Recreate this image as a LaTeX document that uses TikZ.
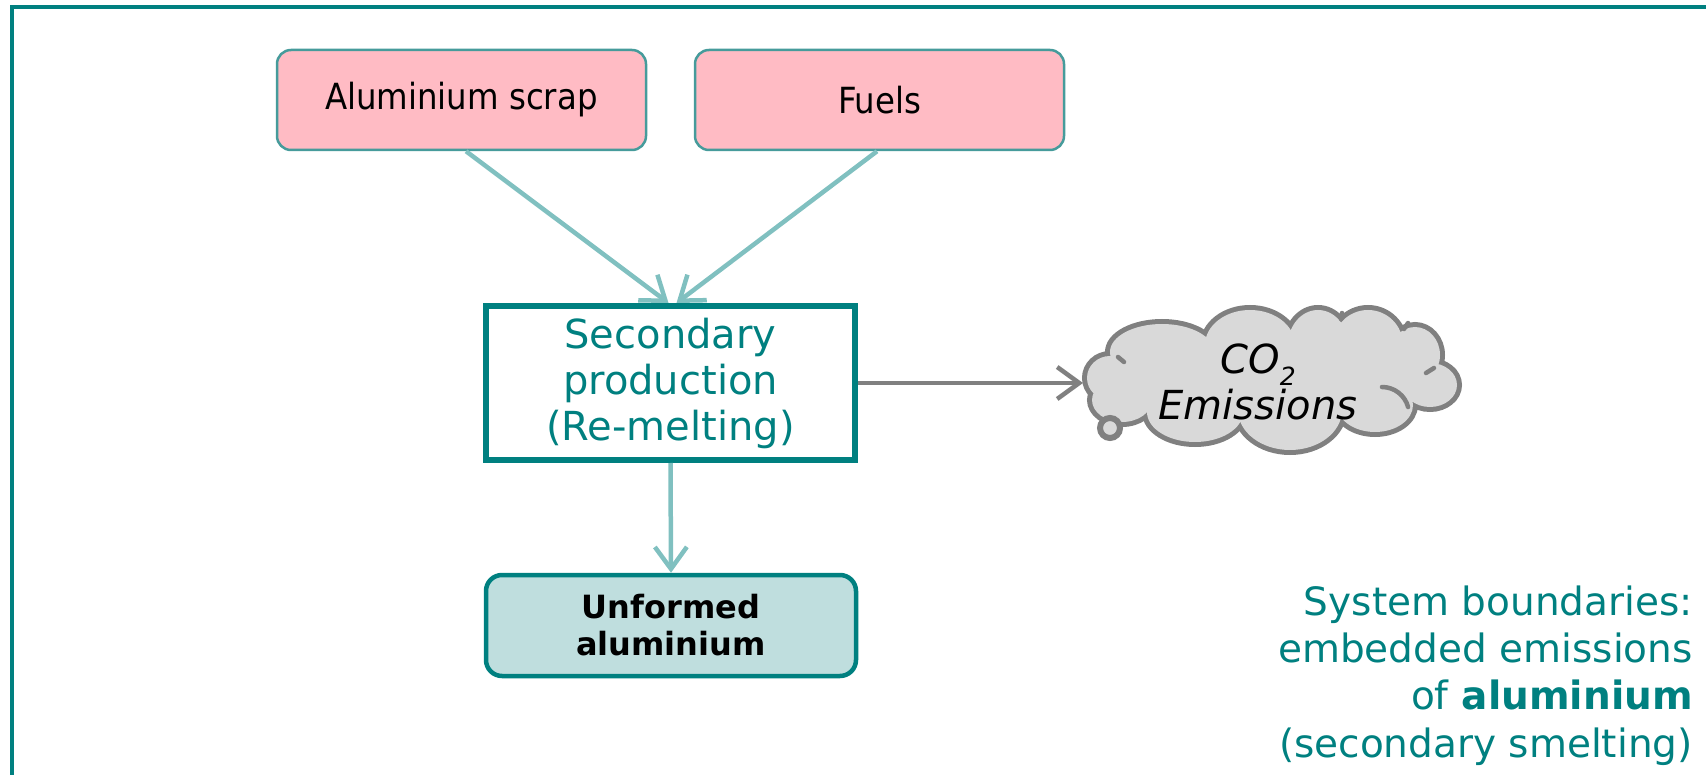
\documentclass[tikz,border=0pt]{standalone}
\usepackage{fontspec}
\setmainfont{DejaVu Sans}
\newfontfamily\condfont{DejaVu Sans Condensed}
\usetikzlibrary{arrows.meta}
\definecolor{tealdark}{RGB}{0,128,128}
\definecolor{tealmid}{RGB}{70,155,155}
\definecolor{teallight}{RGB}{128,192,192}
\definecolor{pinkfill}{RGB}{255,187,196}
\definecolor{outfill}{RGB}{191,222,222}
\definecolor{cloudfill}{RGB}{217,217,217}
\definecolor{cloudline}{RGB}{128,128,128}
\tikzset{
  inbox/.style={draw=tealmid, line width=2.5, fill=pinkfill, rounded corners=14,
    minimum width=369, minimum height=100, inner sep=0,
    font=\condfont\fontsize{36}{40}\selectfont},
  procbox/.style={draw=tealdark, line width=6, fill=white,
    minimum width=369, minimum height=154, inner sep=0, align=center,
    text=tealdark, font=\fontsize{40}{46}\selectfont},
  outbox/.style={draw=tealdark, line width=4.5, fill=outfill, rounded corners=16,
    minimum width=370, minimum height=101, inner sep=0, align=center,
    font=\bfseries\fontsize{32}{37}\selectfont},
  flow/.style={draw=teallight, line width=4.5, -{Straight Barb[length=22,width=32]}},
  emit/.style={draw=cloudline, line width=4.5, -{Straight Barb[length=22,width=32]}},
  cloudrim/.style={draw=cloudline, line width=10},
  cloudbody/.style={fill=cloudfill},
  cloudtick/.style={draw=cloudline, line width=4.5, line cap=round},
}
% the puffs of the cloud: their union is the cloud
\def\cloudpuffs{
  (1110,378) ellipse[x radius=23, y radius=22]
  (1162,352) ellipse[x radius=52, y radius=28]
  (1250,345) ellipse[x radius=45, y radius=35]
  (1318,345) ellipse[x radius=30, y radius=35]
  (1368,345) ellipse[x radius=35, y radius=35]
  (1415,355) ellipse[x radius=25, y radius=28]
  (1430,385) ellipse[x radius=27, y radius=22]
  (1375,405) ellipse[x radius=38, y radius=27]
  (1290,410) ellipse[x radius=52, y radius=40]
  (1195,412) ellipse[x radius=48, y radius=30]
  (1122,400) ellipse[x radius=30, y radius=22]}
\def\cloudcore{
  (1110,378) -- (1162,352) -- (1250,345) -- (1318,345) -- (1368,345) -- (1415,355)
  -- (1430,385) -- (1375,405) -- (1290,410) -- (1195,412) -- (1122,400) -- cycle}
\begin{document}
\begin{tikzpicture}[x=1pt,y=-1pt]
\useasboundingbox (0,0) rectangle (1706,775);
% frame of the slide area
\coordinate (fr1) at (1706,7.5);
\coordinate (fr2) at (12,7.5);
\coordinate (fr3) at (12,775);
\draw[tealdark, line width=4] (fr1) -- (fr2) -- (fr3);

% inputs
\node[inbox] (scrap) at (461.5,100) {Aluminium scrap};
\node[inbox] (fuels) at (879.5,100) {Fuels};

% process
\node[procbox] (proc) at (670.5,383) {Secondary\\production\\(Re-melting)};

% product
\node[outbox] (prod) at (671,625.5) {Unformed\\aluminium};

% emissions cloud: wide rims first, then the body covers their inner halves
\path[cloudrim] \cloudpuffs;
\path[cloudbody] \cloudpuffs;
\path[cloudbody] \cloudcore;
\coordinate (cloudtip) at (1083,382);
% short inner strokes where the puffs meet
\draw[cloudtick] (1382,387) arc[start angle=-90, end angle=-15, radius=27];
\draw[cloudtick] (1434,368) -- (1426,373);
\draw[cloudtick] (1118,357) -- (1124,362);
\draw[cloudtick] (1342,313) -- (1341,319);
\draw[cloudtick] (1408,323) -- (1404,329);
\draw[cloudline, line width=6, fill=cloudfill] (1110,428) circle[radius=10];
\node[font=\itshape\fontsize{40}{46}\selectfont, align=center, inner sep=0] (co2) at (1258,382)
  {CO\raisebox{-12pt}{\fontsize{25}{25}\selectfont 2}\\Emissions};

% connectors
\draw[flow] ([xshift=4.5]scrap.south) -- ([xshift=-2]proc.north);
\draw[flow] ([xshift=-2.5]fuels.south) -- ([xshift=6]proc.north);
\draw[flow] (proc.south) -- (prod.north);
\draw[emit] (proc.east) -- (proc.east -| cloudtip);

% caption
\node[anchor=north east, align=right, inner sep=0, text=tealdark,
  font=\fontsize{39}{47.3}\selectfont] (caption) at (1693,585.5)
  {System boundaries:\\embedded emissions\\of \textbf{aluminium}\\(secondary smelting)};
\end{tikzpicture}
\end{document}
